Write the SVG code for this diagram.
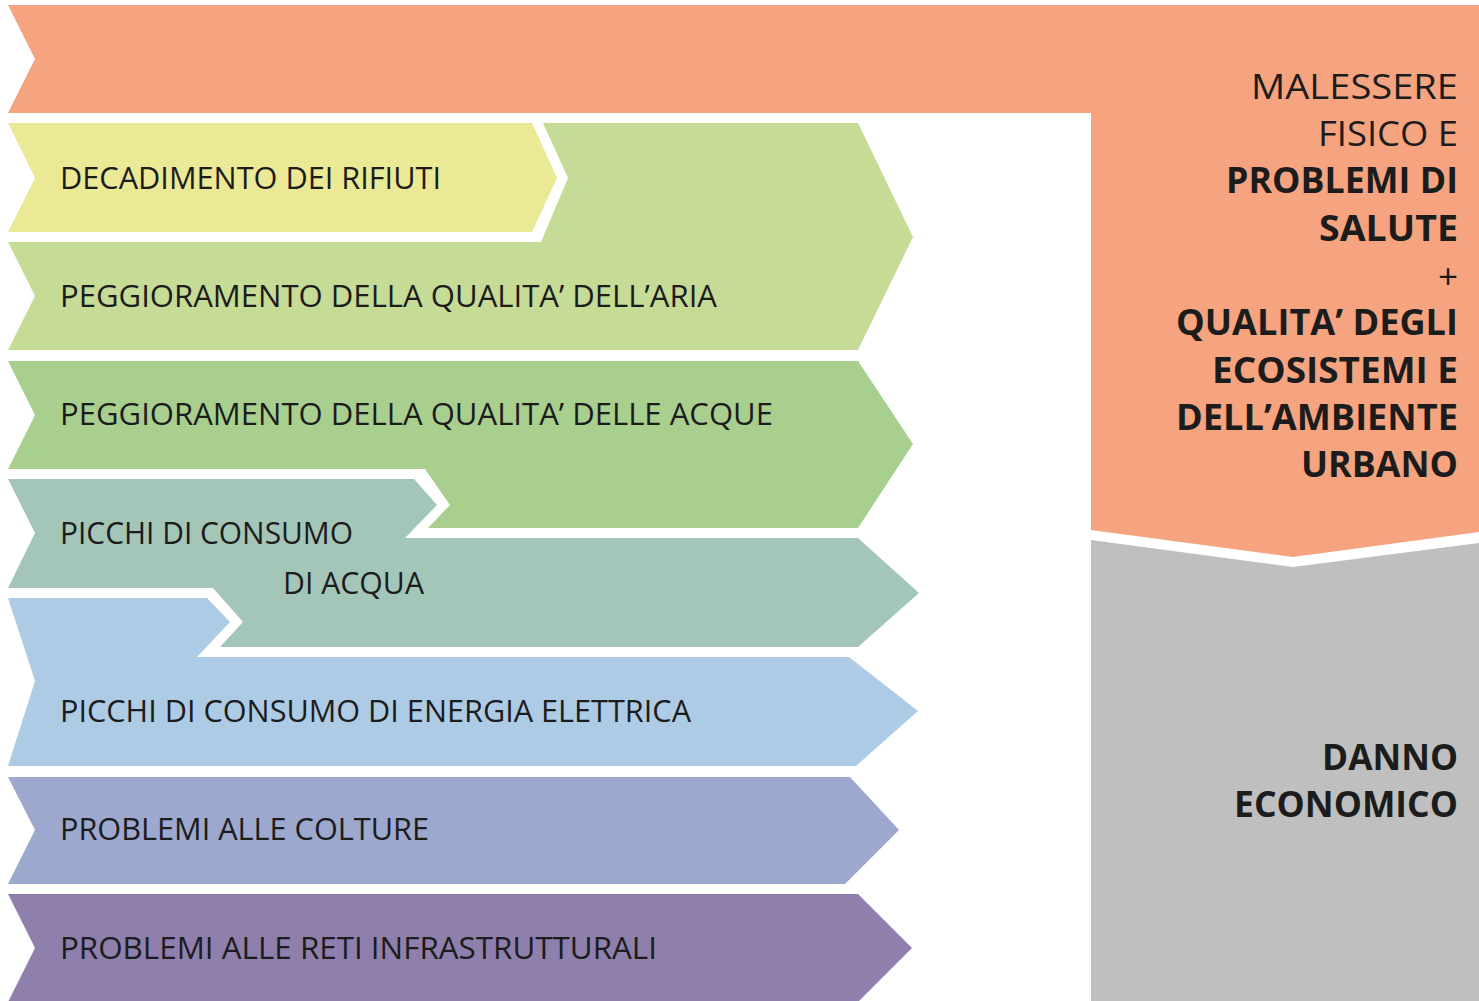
<svg xmlns="http://www.w3.org/2000/svg" width="1479" height="1001" viewBox="0 0 1479 1001">
<style>
.t{font-family:"Open Sans","Liberation Sans",sans-serif;font-size:31px;fill:#1c1c1c;}
.r{font-family:"Open Sans","Liberation Sans",sans-serif;font-size:35px;fill:#1c1c1c;text-anchor:end;}
.b{font-weight:700;}
</style>
<rect width="1479" height="1001" fill="#ffffff"/>
<g id="effetti">
<path d="M8,5 H1479 V532 L1293,557 L1091,530 V113 H8 L35,59 Z" fill="#F5A47F"/>
<text class="r" x="1458" y="99" textLength="207" lengthAdjust="spacingAndGlyphs">MALESSERE</text>
<text class="r" x="1458" y="146" textLength="140" lengthAdjust="spacingAndGlyphs">FISICO E</text>
<text class="r b" x="1458" y="193" textLength="232" lengthAdjust="spacingAndGlyphs">PROBLEMI DI</text>
<text class="r b" x="1458" y="241" textLength="139" lengthAdjust="spacingAndGlyphs">SALUTE</text>
<text class="r" x="1458" y="289">+</text>
<text class="r b" x="1458" y="335" textLength="282" lengthAdjust="spacingAndGlyphs">QUALITA’ DEGLI</text>
<text class="r b" x="1458" y="383" textLength="246" lengthAdjust="spacingAndGlyphs">ECOSISTEMI E</text>
<text class="r b" x="1458" y="430" textLength="282" lengthAdjust="spacingAndGlyphs">DELL’AMBIENTE</text>
<text class="r b" x="1458" y="477" textLength="157" lengthAdjust="spacingAndGlyphs">URBANO</text>
</g>
<g id="danno">
<path d="M1091,540 L1293,567 L1479,543 V1001 H1091 Z" fill="#BFBFBF"/>
<text class="r b" x="1458" y="770" textLength="136" lengthAdjust="spacingAndGlyphs">DANNO</text>
<text class="r b" x="1458" y="817" textLength="224" lengthAdjust="spacingAndGlyphs">ECONOMICO</text>
</g>
<g id="aria">
<path d="M543,123 H858 L913,237 L858,350 H8 L35,296 L8,242 H541 L568,178 Z" fill="#C6DB95"/>
<text class="t" x="60" y="307" textLength="657" lengthAdjust="spacingAndGlyphs">PEGGIORAMENTO DELLA QUALITA’ DELL’ARIA</text>
</g>
<g id="rifiuti">
<path d="M8,123 H532 L557,178 L532,232 H8 L35,178 Z" fill="#EBE995"/>
<text class="t" x="60" y="189" textLength="381" lengthAdjust="spacingAndGlyphs">DECADIMENTO DEI RIFIUTI</text>
</g>
<g id="acque">
<path d="M8,361 H858 L913,444 L858,528 H428 L450,505 L425,469 H8 L35,415 Z" fill="#A9CF8F"/>
<text class="t" x="60" y="425" textLength="713" lengthAdjust="spacingAndGlyphs">PEGGIORAMENTO DELLA QUALITA’ DELLE ACQUE</text>
</g>
<g id="acqua">
<path d="M8,479 H414 L437,505 L405,538 H858 L919,593 L858,647 H220 L243,622 L213,588 H8 L35,533 Z" fill="#A3C6B9"/>
<text class="t" x="60" y="544" textLength="293" lengthAdjust="spacingAndGlyphs">PICCHI DI CONSUMO</text>
<text class="t" x="283" y="594" textLength="141" lengthAdjust="spacingAndGlyphs">DI ACQUA</text>
</g>
<g id="energia">
<path d="M8,598 H207 L230,622 L197,657 H849 L918,711 L856,766 H8 L35,681 Z" fill="#AECBE5"/>
<text class="t" x="60" y="722" textLength="631" lengthAdjust="spacingAndGlyphs">PICCHI DI CONSUMO DI ENERGIA ELETTRICA</text>
</g>
<g id="colture">
<path d="M8,777 H850 L899,830 L845,884 H8 L35,830 Z" fill="#9DA8CE"/>
<text class="t" x="60" y="840" textLength="369" lengthAdjust="spacingAndGlyphs">PROBLEMI ALLE COLTURE</text>
</g>
<g id="reti">
<path d="M8,894 H858 L912,948 L858,1002 H8 L35,948 Z" fill="#8E7FAD"/>
<text class="t" x="60" y="959" textLength="597" lengthAdjust="spacingAndGlyphs">PROBLEMI ALLE RETI INFRASTRUTTURALI</text>
</g>
<g id="connectors"/>
</svg>
